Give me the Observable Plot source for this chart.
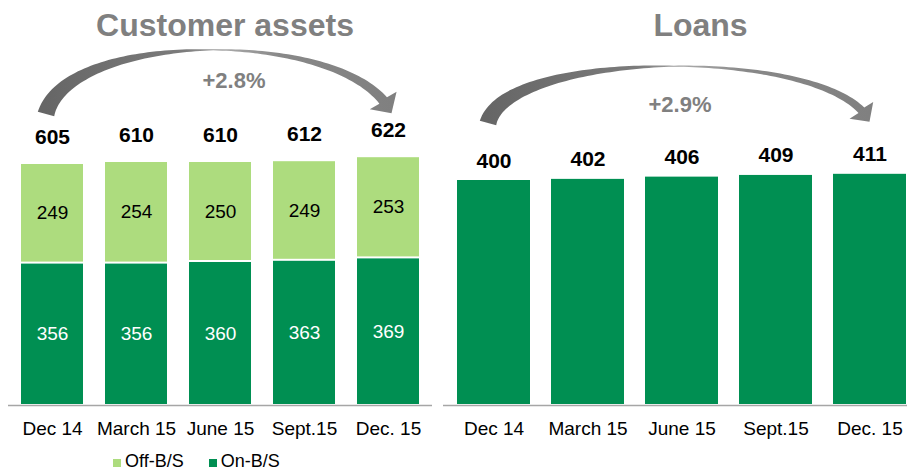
<!DOCTYPE html>
<html><head><meta charset="utf-8">
<script src="https://cdn.jsdelivr.net/npm/d3@7"></script>
<script src="https://cdn.jsdelivr.net/npm/@observablehq/plot@0.6"></script>
<style>
body{margin:0;background:#fff;}
#wrap{position:relative;width:907px;height:473px;overflow:hidden;font-family:Arial,"Liberation Sans",sans-serif;}
.panel{position:absolute;top:0;}
.legend{position:absolute;left:113px;top:452px;font-size:18px;line-height:19px;color:#000;white-space:nowrap}
.legend .item{display:inline-block}
.legend .sw{display:inline-block;width:8px;height:8px;margin-right:4px;vertical-align:0px}
</style></head><body><div id="wrap"></div>
<script>
// ---- data ----
const periods = ["Dec 14", "March 15", "June 15", "Sept.15", "Dec. 15"];
const onBS = [356, 356, 360, 363, 369];
const offBS = [249, 254, 250, 249, 253];
const assetTotals = [605, 610, 610, 612, 622];
const loans = [400, 402, 406, 409, 411];
const seriesNames = ["Off-B/S", "On-B/S"];
const titles = ["Customer assets", "Loans"];
const growth = ["+2.8%", "+2.9%"];

const LIGHT = "#ADDC7E", DARK = "#008F52", GREY = "#808080";
const FONT = 'Arial, "Liberation Sans", sans-serif';

// ---- curved arrow helper (custom mark using Plot scales) ----
function bez(P, t) { const u = 1 - t; return [0, 1].map(k => u*u*u*P[0][k] + 3*u*u*t*P[1][k] + 3*u*t*t*P[2][k] + t*t*t*P[3][k]); }
function bezD(P, t) { const u = 1 - t; return [0, 1].map(k => 3*u*u*(P[1][k]-P[0][k]) + 6*u*t*(P[2][k]-P[1][k]) + 3*t*t*(P[3][k]-P[2][k])); }
function curvedArrow(o) {
  return (index, scales) => {
    const sx = scales.x, sy = scales.y, bw = sx.bandwidth ? sx.bandwidth() : 0;
    const S = [sx(o.from) + bw / 2 + o.sdx, sy(o.fromVal) - o.sdy];
    const E = [sx(o.to) + bw / 2 + o.edx, sy(o.toVal) - o.edy];
    const P = [S, [S[0] + o.a, S[1] - o.h], [E[0] - o.b, E[1] - o.h], E];
    let tb = 1;
    for (let t = 1; t > 0; t -= 0.001) { const p = bez(P, t); if (Math.hypot(E[0]-p[0], E[1]-p[1]) >= o.headL) { tb = t; break; } }
    const N = 100, A = [], B = [];
    for (let i = 0; i <= N; i++) {
      const t = tb * i / N, p = bez(P, t), d = bezD(P, t), L = Math.hypot(d[0], d[1]);
      const n = [-d[1] / L, d[0] / L];
      const w = t < o.tm ? o.tail + (o.mid - o.tail) * (t / o.tm) : o.mid + (o.neck - o.mid) * ((t - o.tm) / (tb - o.tm));
      A.push([p[0] + n[0]*w/2, p[1] + n[1]*w/2]);
      B.push([p[0] - n[0]*w/2, p[1] - n[1]*w/2]);
    }
    const pb = bez(P, tb), dx = E[0]-pb[0], dy = E[1]-pb[1], L = Math.hypot(dx, dy), n = [-dy/L, dx/L];
    const wA = [pb[0] + n[0]*o.headW/2, pb[1] + n[1]*o.headW/2];
    const wB = [pb[0] - n[0]*o.headW/2, pb[1] - n[1]*o.headW/2];
    const pts = [...A, wA, E, wB, ...B.reverse()];
    const g = d3.create("svg:g");
    const grad = g.append("defs").append("linearGradient").attr("id", o.id)
      .attr("gradientUnits", "userSpaceOnUse").attr("x1", S[0]).attr("x2", E[0]).attr("y1", 0).attr("y2", 0);
    [[0, "#666666"], [0.4, "#7c7c7c"], [0.52, "#a8a8a8"], [0.68, "#888888"], [1, "#808080"]]
      .forEach(([off, c]) => grad.append("stop").attr("offset", off).attr("stop-color", c));
    g.append("path").attr("d", "M" + pts.map(p => p.join(",")).join("L") + "Z").attr("fill", `url(#${o.id})`);
    return g.node();
  };
}

const wrap = document.getElementById("wrap");
function addPanel(node, left) {
  const d = document.createElement("div");
  d.className = "panel"; d.style.left = left + "px";
  d.appendChild(node); wrap.appendChild(d);
}

// ---- left: customer assets ----
const rows = periods.flatMap((p, i) => [
  {period: p, series: "On-B/S", value: onBS[i]},
  {period: p, series: "Off-B/S", value: offBS[i]}
]);

const left = Plot.plot({
  width: 440, height: 473,
  marginLeft: 8, marginRight: 8, marginTop: 0, marginBottom: 68,
  style: {fontFamily: FONT, fontSize: "19px", color: "#000", background: "transparent", overflow: "visible"},
  x: {domain: periods, paddingInner: 0.2566, paddingOuter: 0.13, align: 0.5, tickSize: 0, tickPadding: 16, label: null},
  y: {domain: [0, 1012.5], axis: null},
  color: {domain: seriesNames, range: [LIGHT, DARK]},
  marks: [
    Plot.barY(rows, {x: "period", y: "value", fill: "series", insetTop: 1, insetBottom: 1}),
    Plot.ruleY([0], {stroke: "#a6a6a6", strokeWidth: 1.5}),
    Plot.text(periods, {x: periods, y: onBS.map(v => v / 2), text: onBS, fill: "white", fontSize: 19, lineAnchor: "middle"}),
    Plot.text(periods, {x: periods, y: onBS.map((v, i) => v + offBS[i] / 2), text: offBS, fill: "black", fontSize: 19, lineAnchor: "middle"}),
    Plot.text(periods, {x: periods, y: assetTotals, text: assetTotals, fill: "black", fontSize: 21, fontWeight: "bold", lineAnchor: "bottom", dy: -20}),
    Plot.text([titles[0]], {text: d => d, frameAnchor: "top", dx: 4.5, dy: 35, lineAnchor: "bottom", fontSize: 32, fontWeight: "bold", fill: GREY}),
    Plot.text([growth[0]], {text: d => d, frameAnchor: "top", dx: 13.5, dy: 87, lineAnchor: "bottom", fontSize: 22, fontWeight: "bold", fill: GREY}),
    curvedArrow({id: "gradL", from: periods[0], fromVal: assetTotals[0], to: periods[4], toVal: assetTotals[4],
      sdx: -6, sdy: 49, edx: 3.5, edy: 43, h: 85, a: 23, b: 40, headL: 15, headW: 32, tail: 17, mid: 1, neck: 10, tm: 0.5})
  ]
});
addPanel(left, 0);

// ---- right: loans ----
const right = Plot.plot({
  width: 467, height: 473,
  marginLeft: 3, marginRight: 0, marginTop: 0, marginBottom: 68,
  style: {fontFamily: FONT, fontSize: "19px", color: "#000", background: "transparent", overflow: "visible"},
  x: {domain: periods, paddingInner: 0.2253, paddingOuter: 0.0574, align: 0.92, tickSize: 0, tickPadding: 16, label: null},
  y: {domain: [0, 720], axis: null},
  marks: [
    Plot.barY(periods, {x: periods, y: loans, fill: DARK, insetBottom: 1}),
    Plot.ruleY([0], {stroke: "#a6a6a6", strokeWidth: 1.5}),
    Plot.text(periods, {x: periods, y: loans, text: loans, fill: "black", fontSize: 21, fontWeight: "bold", lineAnchor: "bottom", dy: -13}),
    Plot.text([titles[1]], {text: d => d, frameAnchor: "top", dx: 25, dy: 35, lineAnchor: "bottom", fontSize: 32, fontWeight: "bold", fill: GREY}),
    Plot.text([growth[1]], {text: d => d, frameAnchor: "top", dx: 4.5, dy: 111, lineAnchor: "bottom", fontSize: 22, fontWeight: "bold", fill: GREY}),
    curvedArrow({id: "gradR", from: periods[0], fromVal: loans[0], to: periods[4], toVal: loans[4],
      sdx: -5.5, sdy: 57, edx: 0, edy: 52, h: 75, a: 20, b: 35, headL: 14, headW: 29, tail: 17, mid: 1, neck: 8, tm: 0.5})
  ]
});
addPanel(right, 440);

// ---- legend ----
const lg = document.createElement("div");
lg.className = "legend";
lg.innerHTML = seriesNames.map((s, i) =>
  `<span class="item" style="margin-right:${i === 0 ? 25 : 0}px"><span class="sw" style="background:${[LIGHT, DARK][i]}"></span>${s}</span>`).join("");
wrap.appendChild(lg);
</script>
</body></html>
